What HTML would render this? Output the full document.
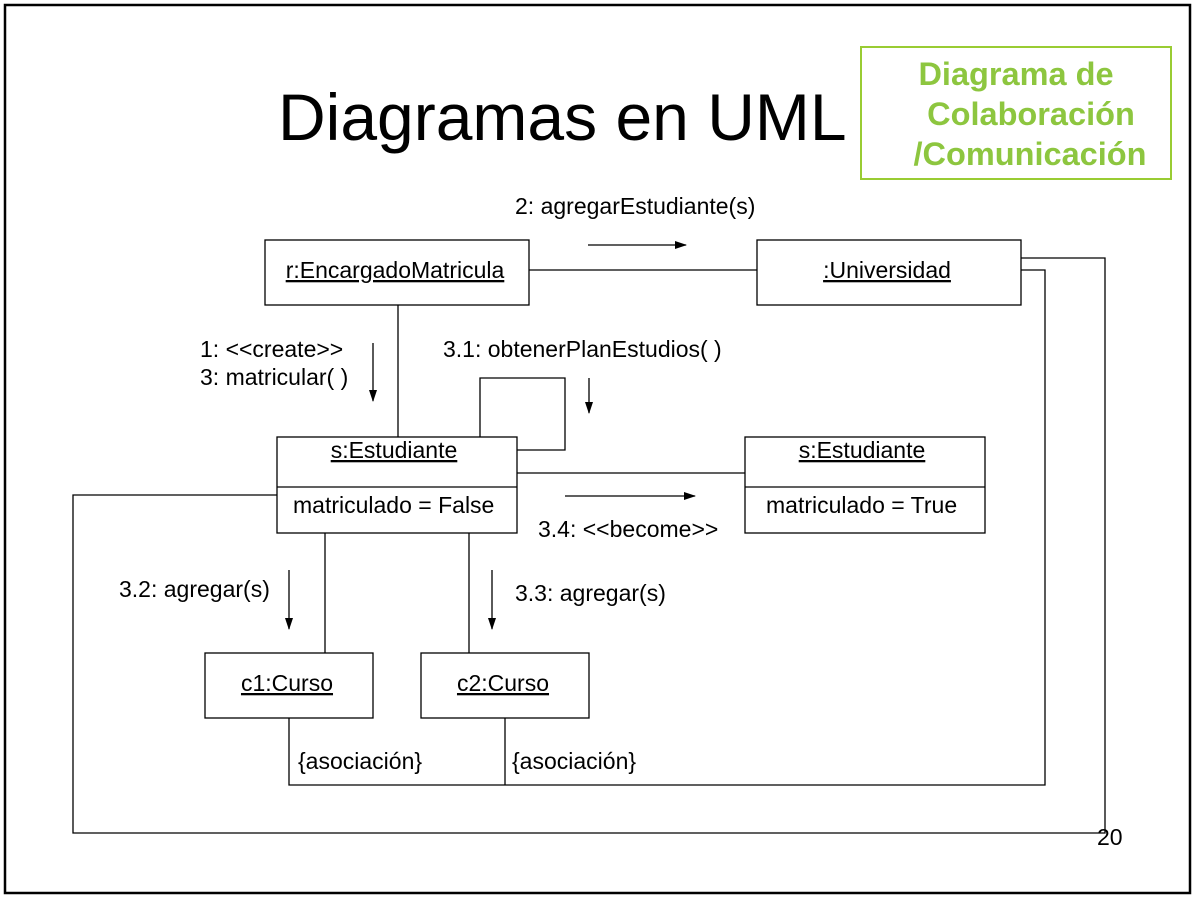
<!DOCTYPE html>
<html><head><meta charset="utf-8"><style>
html,body{margin:0;padding:0;background:#fff}
svg{display:block}
text{font-family:"Liberation Sans",Arial,sans-serif;fill:#000}
</style></head><body>
<svg width="1196" height="897" viewBox="0 0 1196 897" xmlns="http://www.w3.org/2000/svg">
<defs><marker id="a" markerWidth="12" markerHeight="8" refX="11" refY="4" orient="auto" markerUnits="userSpaceOnUse"><path d="M0,0 L12,4 L0,8 z" fill="#000"/></marker></defs>
<rect x="5" y="5" width="1185" height="888" fill="#fff" stroke="#000" stroke-width="2.5"/>
<text x="278" y="140" font-size="66">Diagramas en UML</text>
<rect x="861" y="47" width="310" height="132" fill="#fff" stroke="#99cc33" stroke-width="2"/>
<g font-size="32.5" font-weight="bold" text-anchor="middle">
<text x="1016" y="85" style="fill:#8dc63f">Diagrama de</text>
<text x="1031" y="125" style="fill:#8dc63f">Colaboración</text>
<text x="1030" y="165" style="fill:#8dc63f">/Comunicación</text>
</g>
<g fill="none" stroke="#000" stroke-width="1.3">
<rect x="265" y="240" width="264" height="65"/>
<rect x="757" y="240" width="264" height="65"/>
<rect x="277" y="437" width="240" height="96"/><line x1="277" y1="487" x2="517" y2="487"/>
<rect x="745" y="437" width="240" height="96"/><line x1="745" y1="487" x2="985" y2="487"/>
<rect x="205" y="653" width="168" height="65"/>
<rect x="421" y="653" width="168" height="65"/>
<line x1="529" y1="270" x2="757" y2="270"/>
<line x1="398" y1="305" x2="398" y2="437"/>
<polyline points="480,437 480,378 565,378 565,450 517,450"/>
<line x1="517" y1="473" x2="745" y2="473"/>
<line x1="325" y1="533" x2="325" y2="653"/>
<line x1="469" y1="533" x2="469" y2="653"/>
<polyline points="277,495 73,495 73,833 1105,833 1105,258 1021,258"/>
<polyline points="289,718 289,785 1045,785 1045,270 1021,270"/>
<line x1="505" y1="718" x2="505" y2="785"/>
<line x1="588" y1="245" x2="686" y2="245" marker-end="url(#a)"/>
<line x1="373" y1="343" x2="373" y2="401" marker-end="url(#a)"/>
<line x1="589" y1="378" x2="589" y2="413" marker-end="url(#a)"/>
<line x1="565" y1="496" x2="695" y2="496" marker-end="url(#a)"/>
<line x1="289" y1="570" x2="289" y2="629" marker-end="url(#a)"/>
<line x1="492" y1="570" x2="492" y2="629" marker-end="url(#a)"/>
</g>
<g font-size="23" text-anchor="middle" text-decoration="underline">
<text x="395" y="278">r:EncargadoMatricula</text>
<text x="887" y="278">:Universidad</text>
<text x="394" y="458">s:Estudiante</text>
<text x="862" y="458">s:Estudiante</text>
<text x="287" y="691">c1:Curso</text>
<text x="503" y="691">c2:Curso</text>
</g>
<g font-size="23">
<text x="293" y="513">matriculado = False</text>
<text x="766" y="513">matriculado = True</text>
<text x="515" y="214">2: agregarEstudiante(s)</text>
<text x="200" y="357">1: &lt;&lt;create&gt;&gt;</text>
<text x="200" y="385">3: matricular( )</text>
<text x="443" y="357">3.1: obtenerPlanEstudios( )</text>
<text x="538" y="537">3.4: &lt;&lt;become&gt;&gt;</text>
<text x="119" y="597">3.2: agregar(s)</text>
<text x="515" y="601">3.3: agregar(s)</text>
<text x="298" y="769">{asociación}</text>
<text x="512" y="769">{asociación}</text>
<text x="1097" y="845">20</text>
</g>
</svg>
</body></html>
